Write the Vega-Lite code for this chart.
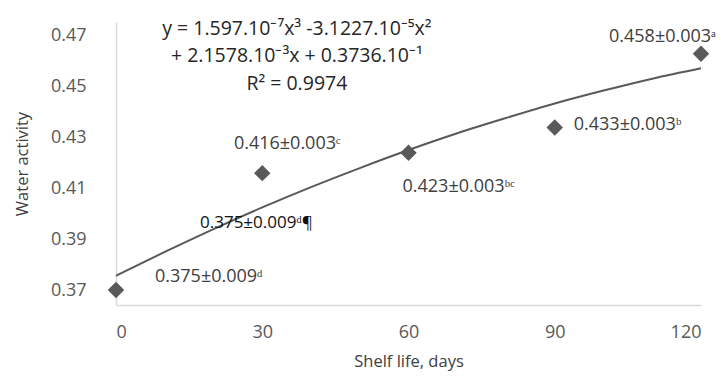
{
  "$schema": "https://vega.github.io/schema/vega-lite/v6.json",
  "width": 585,
  "height": 283,
  "autosize": "none",
  "padding": {"left": 116, "top": 22, "right": 20, "bottom": 71},
  "background": "white",
  "config": {
    "view": {"stroke": null},
    "font": "Open Sans",
    "axis": {"grid": false, "ticks": false, "domainColor": "#d9d9d9", "domainWidth": 1.5, "labelColor": "#595959", "labelFont": "Open Sans", "labelFontSize": 18, "titleFont": "Open Sans", "titleFontSize": 16.5, "titleFontWeight": "normal", "titleColor": "#404040"}
  },
  "datasets": {
    "points": [
      {"day": 0, "aw": 0.370},
      {"day": 30, "aw": 0.416},
      {"day": 60, "aw": 0.424},
      {"day": 90, "aw": 0.434},
      {"day": 120, "aw": 0.463}
    ],
    "curve": [
      {"day": 0, "aw": 0.3756},
      {"day": 10, "aw": 0.3850},
      {"day": 20, "aw": 0.3940},
      {"day": 30, "aw": 0.4025},
      {"day": 40, "aw": 0.4105},
      {"day": 50, "aw": 0.4180},
      {"day": 60, "aw": 0.4251},
      {"day": 70, "aw": 0.4317},
      {"day": 80, "aw": 0.4377},
      {"day": 90, "aw": 0.4434},
      {"day": 100, "aw": 0.4485},
      {"day": 110, "aw": 0.4532},
      {"day": 120, "aw": 0.4573}
    ],
    "equation": [
      {"day": 37.1, "aw": 0.4728}
    ]
  },
  "layer": [
    {
      "data": {"name": "curve"},
      "mark": {"type": "line", "color": "#595959", "strokeWidth": 2, "interpolate": "monotone"},
      "encoding": {
        "x": {"field": "day", "type": "quantitative", "scale": {"domain": [0, 120], "nice": false}, "axis": {"values": [0, 30, 60, 90, 120], "title": "Shelf life, days", "labelPadding": 18, "titlePadding": 12}},
        "y": {"field": "aw", "type": "quantitative", "scale": {"domain": [0.3641, 0.4755], "nice": false, "zero": false}, "axis": {"values": [0.37, 0.39, 0.41, 0.43, 0.45, 0.47], "format": ".2f", "title": "Water activity", "labelPadding": 30, "titlePadding": 20}}
      }
    },
    {
      "data": {"name": "points"},
      "mark": {"type": "point", "shape": "diamond", "filled": true, "size": 270, "color": "#595959", "opacity": 1},
      "encoding": {
        "x": {"field": "day", "type": "quantitative"},
        "y": {"field": "aw", "type": "quantitative"}
      }
    },
    {
      "data": {"name": "points"},
      "transform": [{"filter": "datum.day == 0"}],
      "mark": {"type": "text", "align": "left", "baseline": "middle", "dx": 39, "dy": -13, "fontSize": 18, "color": "#404040"},
      "encoding": {"x": {"field": "day", "type": "quantitative"}, "y": {"field": "aw", "type": "quantitative"}, "text": {"value": "0.375±0.009ᵈ"}}
    },
    {
      "data": {"name": "points"},
      "transform": [{"filter": "datum.day == 0"}],
      "mark": {"type": "text", "align": "left", "baseline": "middle", "dx": 84, "dy": -67, "fontSize": 17, "color": "#111111"},
      "encoding": {"x": {"field": "day", "type": "quantitative"}, "y": {"field": "aw", "type": "quantitative"}, "text": {"value": "0.375±0.009ᵈ¶"}}
    },
    {
      "data": {"name": "points"},
      "transform": [{"filter": "datum.day == 30"}],
      "mark": {"type": "text", "align": "center", "baseline": "middle", "dx": 25, "dy": -29, "fontSize": 18, "color": "#404040"},
      "encoding": {"x": {"field": "day", "type": "quantitative"}, "y": {"field": "aw", "type": "quantitative"}, "text": {"value": "0.416±0.003ᶜ"}}
    },
    {
      "data": {"name": "points"},
      "transform": [{"filter": "datum.day == 60"}],
      "mark": {"type": "text", "align": "left", "baseline": "middle", "dx": -6, "dy": 34, "fontSize": 18, "color": "#404040"},
      "encoding": {"x": {"field": "day", "type": "quantitative"}, "y": {"field": "aw", "type": "quantitative"}, "text": {"value": "0.423±0.003ᵇᶜ"}}
    },
    {
      "data": {"name": "points"},
      "transform": [{"filter": "datum.day == 90"}],
      "mark": {"type": "text", "align": "left", "baseline": "middle", "dx": 19, "dy": -2, "fontSize": 18, "color": "#404040"},
      "encoding": {"x": {"field": "day", "type": "quantitative"}, "y": {"field": "aw", "type": "quantitative"}, "text": {"value": "0.433±0.003ᵇ"}}
    },
    {
      "data": {"name": "points"},
      "transform": [{"filter": "datum.day == 120"}],
      "mark": {"type": "text", "align": "right", "baseline": "middle", "dx": 15, "dy": -17, "fontSize": 18, "color": "#404040"},
      "encoding": {"x": {"field": "day", "type": "quantitative"}, "y": {"field": "aw", "type": "quantitative"}, "text": {"value": "0.458±0.003ᵃ"}}
    },
    {
      "data": {"name": "equation"},
      "mark": {"type": "text", "align": "center", "baseline": "middle", "fontSize": 19.5, "lineHeight": 27.5, "color": "#262626"},
      "encoding": {
        "x": {"field": "day", "type": "quantitative"},
        "y": {"field": "aw", "type": "quantitative"},
        "text": {"value": ["y = 1.597.10⁻⁷x³ -3.1227.10⁻⁵x²", "+ 2.1578.10⁻³x + 0.3736.10⁻¹", "R² = 0.9974"]}
      }
    }
  ]
}
